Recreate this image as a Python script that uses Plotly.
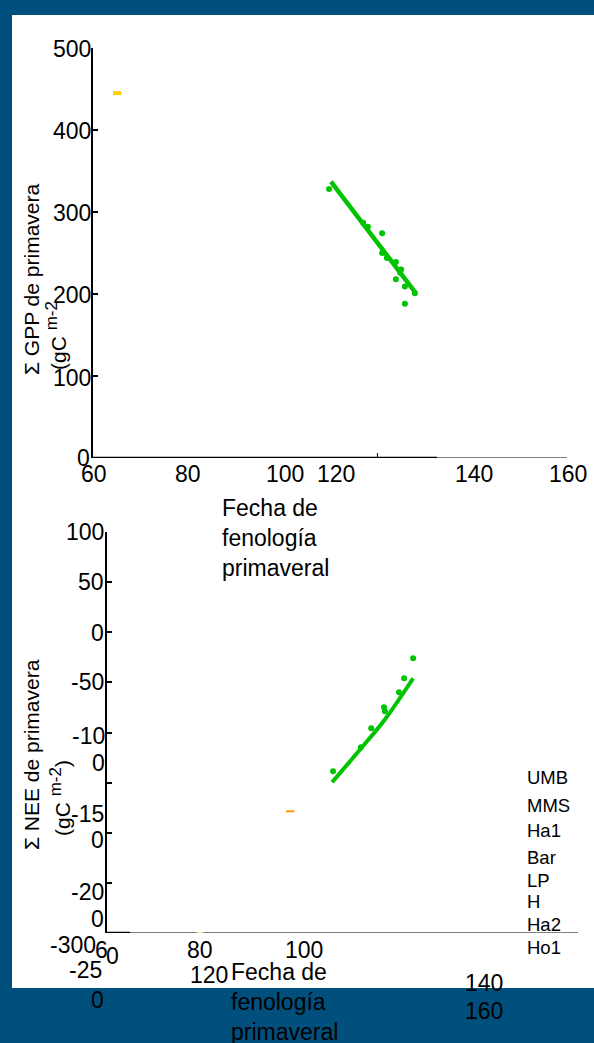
import plotly.graph_objects as go

W, H = 594, 1043
def fx(px): return px / W
def fy(py): return 1 - py / H

# ---------------- data ----------------
# top panel: spring GPP vs spring phenology date
gpp_x = [109.8, 117.0, 118.0, 121.0, 121.0, 122.0, 123.9, 125.0, 124.8, 123.9, 125.8, 127.9, 125.8]
gpp_y = [328, 287, 282, 274, 250, 244, 239, 230, 226, 218, 209, 201, 188]
gpp_fit_x = [110.2, 128.1]
gpp_fit_y = [337, 201]
gpp_other_x = [65.1]
gpp_other_y = [445]

# bottom panel: spring NEE vs spring phenology date
nee_x = [108.0, 113.9, 116.1, 118.8, 119.0, 122.0, 123.1, 125.0]
nee_y = [-138.7, -114.7, -95.8, -74.8, -78.8, -59.9, -45.9, -25.9]
nee_fit_x = [107.8, 114.0, 119.0, 125.0]
nee_fit_y = [-149.6, -115.5, -87.0, -45.9]
nee_other_x = [98.9]
nee_other_y = [-178.6]

top_y_ticks = [0, 100, 200, 300, 400, 500]
top_y_labels = ["0", "100", "200", "300", "400", "500"]
top_x_labels = ["60", "80", "100", "120", "140", "160"]
bot_y_ticks = [-250, -200, -150, -100, -50, 0, 50, 100]

site_labels = ["UMB", "MMS", "Ha1", "Bar", "LP", "H", "Ha2", "Ho1"]

# garbled tick labels of the lower panel
bot_y_labels = ["100", "50", "0", "-50", "-10", "0", "-15", "0", "-20", "0", "-300", "-25", "0"]
bot_x_labels = ["6", "0", "80", "100", "120", "140", "160"]

# ---------------- layout positions (pixels) ----------------
top_x_label_pos = [(94, 474), (188, 474), (285, 474), (336, 474), (474, 474), (568, 474)]
top_y_label_pos = [(91, 458), (92, 378), (92, 295), (92, 213), (92, 131), (92, 49)]
bot_y_label_pos = [(105, 532), (105, 582), (105, 633), (105, 682), (106, 736), (106, 763),
                   (105, 814), (105, 840), (105, 892), (105, 919), (97, 945), (103, 970), (105, 1000)]
bot_x_label_pos = [(101, 950), (112, 956), (200, 950), (304, 950), (209, 975), (484, 983), (484, 1011)]
legend_y = [777, 805, 830, 857, 880, 901, 924, 947]

GREEN = "#00c400"
FONT = "Arial, Liberation Sans, sans-serif"
BLUE = "#014f7c"

fig = go.Figure()

fig.add_trace(go.Scatter(x=gpp_fit_x, y=gpp_fit_y, mode="lines",
                         line=dict(color=GREEN, width=4.5), xaxis="x", yaxis="y", showlegend=False))
fig.add_trace(go.Scatter(x=gpp_x, y=gpp_y, mode="markers",
                         marker=dict(color=GREEN, size=6), xaxis="x", yaxis="y", showlegend=False))
fig.add_trace(go.Scatter(x=gpp_other_x, y=gpp_other_y, mode="markers",
                         marker=dict(symbol="line-ew", size=6, line=dict(color="#ffd000", width=4)),
                         xaxis="x", yaxis="y", showlegend=False))

fig.add_trace(go.Scatter(x=nee_fit_x, y=nee_fit_y, mode="lines", line_shape="spline",
                         line=dict(color=GREEN, width=4), xaxis="x2", yaxis="y2", showlegend=False))
fig.add_trace(go.Scatter(x=nee_x, y=nee_y, mode="markers",
                         marker=dict(color=GREEN, size=6), xaxis="x2", yaxis="y2", showlegend=False))
fig.add_trace(go.Scatter(x=nee_other_x, y=nee_other_y, mode="markers",
                         marker=dict(symbol="line-ew", size=6, line=dict(color="#ff9900", width=2)),
                         xaxis="x2", yaxis="y2", showlegend=False))

shapes = [
    dict(type="rect", xref="paper", yref="paper", x0=fx(12), x1=1, y0=fy(988), y1=fy(15),
         fillcolor="white", line=dict(width=0), layer="below"),
    dict(type="line", xref="x", yref="y", x0=60, x1=132.6, y0=0, y1=0, line=dict(color="black", width=2.5)),
    dict(type="line", xref="x", yref="y", x0=132.6, x1=160, y0=0, y1=0, line=dict(color="black", width=1)),
    dict(type="line", xref="x", yref="y", x0=120, x1=120, y0=0, y1=6, line=dict(color="black", width=1)),
    dict(type="line", xref="x2", yref="y2", x0=60, x1=64.9, y0=-300, y1=-300, line=dict(color="black", width=2.5)),
    dict(type="line", xref="x2", yref="y2", x0=64.9, x1=79.1, y0=-300, y1=-300, line=dict(color="black", width=1)),
    dict(type="line", xref="x2", yref="y2", x0=79.1, x1=80.4, y0=-300, y1=-300, line=dict(color="#ffd000", width=1)),
    dict(type="line", xref="x2", yref="y2", x0=80.4, x1=160, y0=-300, y1=-300, line=dict(color="black", width=1)),
]

ann = []
tfont = dict(family=FONT, size=23, color="black")

def add_text(t, px, py, xa, ya="middle", font=tfont, **kw):
    ann.append(dict(text=t, x=fx(px), y=fy(py), xref="paper", yref="paper", xanchor=xa,
                    yanchor=ya, showarrow=False, font=font, borderpad=0, **kw))

for t, (px, py) in zip(top_y_labels, top_y_label_pos):
    add_text(t, px, py, "right")
for t, (px, py) in zip(top_x_labels, top_x_label_pos):
    add_text(t, px, py, "center")
for t, (px, py) in zip(bot_y_labels, bot_y_label_pos):
    add_text(t, px, py, "right")
for t, (px, py) in zip(bot_x_labels, bot_x_label_pos):
    add_text(t, px, py, "center")
for t, py in zip(site_labels, legend_y):
    add_text(t, 526, py, "left", font=dict(family=FONT, size=18.5, color="black"))

xtitle = "Fecha de<br>fenología<br>primaveral"
add_text(xtitle, 221, 494, "left", "top", align="left")
add_text(xtitle, 230, 958, "left", "top", align="left")

yfont = dict(family=FONT, size=21, color="black")
sup = "<sup><span style='font-size:17px'>m-2</span></sup>"
add_text("Σ GPP de primavera", 31, 280, "center", font=yfont, textangle=-90)
add_text("(gC " + sup, 56, 336, "center", font=yfont, textangle=-90)
add_text("Σ NEE de primavera", 31, 755, "center", font=yfont, textangle=-90)
add_text("(gC " + sup + ")", 60, 798, "center", font=yfont, textangle=-90)

fig.update_layout(
    width=W, height=H, margin=dict(l=0, r=0, t=0, b=0, pad=0, autoexpand=False),
    paper_bgcolor=BLUE, plot_bgcolor="rgba(0,0,0,0)",
    font=dict(family=FONT, color="black"),
    shapes=shapes, annotations=ann,
    xaxis=dict(domain=[fx(93), fx(567)], range=[60, 160], anchor="y", showgrid=False, zeroline=False,
               showline=False, ticks="", showticklabels=False, automargin=False),
    yaxis=dict(domain=[fy(458), fy(48)], range=[0, 500], anchor="x", showgrid=False, zeroline=False,
               showline=True, linecolor="black", linewidth=2, ticks="inside", ticklen=5, tickwidth=1.5,
               tickcolor="black", tickvals=top_y_ticks, showticklabels=False, automargin=False),
    xaxis2=dict(domain=[fx(107), fx(578)], range=[60, 160], anchor="y2", showgrid=False, zeroline=False,
                showline=False, ticks="", showticklabels=False, automargin=False),
    yaxis2=dict(domain=[fy(933), fy(532)], range=[-300, 100], anchor="x2", showgrid=False, zeroline=False,
                showline=True, linecolor="black", linewidth=2, ticks="inside", ticklen=5, tickwidth=1.5,
                tickcolor="black", tickvals=bot_y_ticks, showticklabels=False, automargin=False),
)

fig.write_html("out.html")
